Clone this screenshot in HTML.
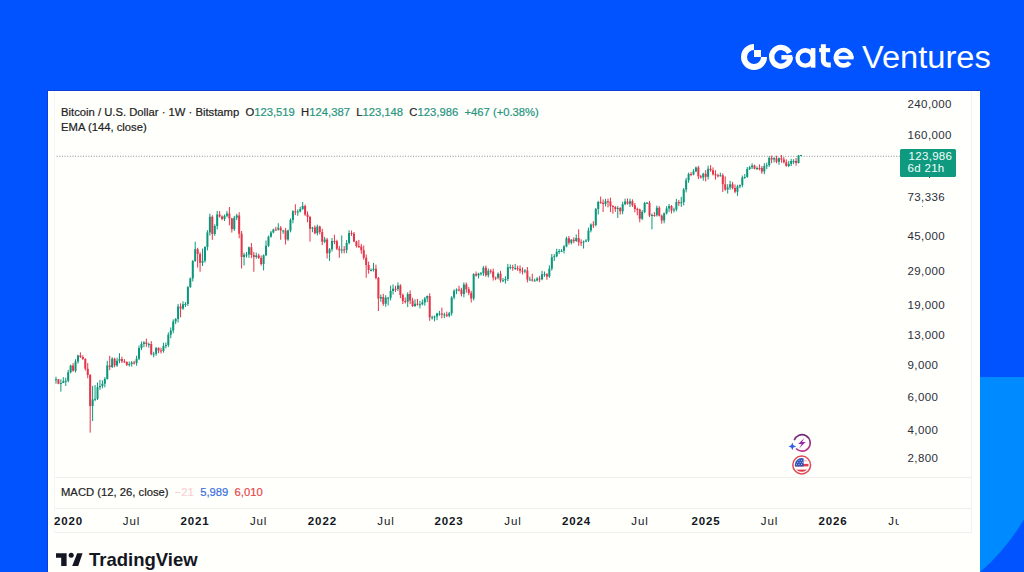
<!DOCTYPE html>
<html><head><meta charset="utf-8">
<style>
*{margin:0;padding:0;box-sizing:border-box}
html,body{width:1024px;height:572px;overflow:hidden;background:#0053ff;font-family:"Liberation Sans",sans-serif}
#lb{position:absolute;left:960px;top:377px;width:64px;height:195px;background:#0053ff;overflow:hidden}
#logo{position:absolute;left:740px;top:44px}
.gt{position:absolute;color:#fff;white-space:nowrap;transform-origin:0 0}
#panel{position:absolute;left:48px;top:91px;width:932px;height:481px;background:#fffffc;overflow:hidden}
.t{position:absolute;font-size:11.25px;color:#222;white-space:nowrap;-webkit-text-stroke:0.2px currentColor}
.g{color:#279580}
.yl{position:absolute;left:907.5px;font-size:11.5px;color:#2a2e39;line-height:14px;letter-spacing:0.4px}
.xl{position:absolute;top:514px;width:60px;text-align:center;font-size:11.5px;color:#131722;line-height:14px;letter-spacing:0.9px}
.xl.b{font-weight:bold}
.hl{position:absolute;left:54px;width:917px;height:1px;background:#eeeeec}
svg{position:absolute;left:0;top:0}
</style></head><body>
<div id="lb"><svg width="64" height="195" viewBox="960 377 64 195"><circle cx="847.7" cy="417.1" r="203.7" fill="#008aff"/></svg></div>
<svg id="logo" width="26" height="26" viewBox="0 0 26 26" style="left:740.8px;top:43.8px"><path d="M13 0A13 13 0 1 0 26 13H20A7 7 0 1 1 13 6Z" fill="#fff"/><rect x="13" y="6" width="7" height="7" fill="#fff"/></svg>
<svg width="100" height="40" viewBox="765 36 100 40" style="left:765px;top:36px">
<g fill="none" stroke="#fff">
<path d="M789.47 52.85A9.35 9.35 0 1 0 790.35 56.8" stroke-width="5.3"/>
<circle cx="805.25" cy="57.95" r="7.65" stroke-width="4.4"/>
<path d="M851.35 57.8A7.75 7.75 0 1 0 849.71 62.57" stroke-width="4.5"/>
<path d="M823.35 44.2V60.4A4.5 4.5 0 0 0 827.85 64.9H830.8" stroke-width="5"/>
</g>
<g fill="#fff">
<rect x="781.4" y="55.1" width="10.8" height="4.5"/>
<rect x="810.75" y="48.1" width="4.65" height="19.6"/>
<rect x="819.2" y="48.1" width="10.9" height="4.1"/>
<rect x="835.5" y="55.9" width="18.1" height="3.5"/>
</g></svg>
<div class="gt" style="left:862px;top:39.8px;font-size:30.6px;transform:scaleX(1.066)">Ventures</div>
<div id="panel"></div><div style="position:absolute;left:47px;top:90px;width:934px;height:1px;background:#0a3fd8"></div><div style="position:absolute;left:47px;top:90px;width:1px;height:482px;background:#0a3fd8"></div>
<svg width="1024" height="572" viewBox="0 0 1024 572" style="position:absolute;left:0;top:0">
<line x1="54" y1="156.3" x2="900" y2="156.3" stroke="#8a8d96" stroke-width="1" stroke-dasharray="1 1.64"/>
<g clip-path="url(#cp)"><g><path d="M55.99 376.7V383.7M60.87 379.3V391.6M63.32 377.2V383.1M65.76 377.7V385.9M68.20 369.8V382.4M70.64 364.7V373.4M75.53 359.2V372.5M77.97 354.7V363.6M92.62 385.9V421.0M95.07 385.0V401.2M97.51 382.5V400.0M99.95 379.8V389.9M102.40 380.3V388.3M104.84 377.1V387.3M107.28 360.8V379.6M112.16 357.2V368.0M117.05 357.8V366.8M119.49 353.2V363.2M129.26 361.5V366.6M131.70 361.1V366.5M136.59 355.8V365.7M139.03 345.5V360.1M141.47 341.6V350.2M143.92 341.1V347.2M148.80 342.6V347.7M153.69 351.8V357.3M156.13 347.0V355.8M163.46 342.8V352.7M165.90 342.5V348.4M168.34 332.4V347.1M170.78 327.5V338.2M173.23 319.4V333.2M175.67 318.1V324.1M178.11 303.9V322.5M183.00 301.3V309.9M185.44 302.1V307.0M187.88 286.2V305.9M190.32 277.5V287.9M192.77 260.1V281.5M195.21 241.7V261.9M202.54 248.6V266.0M204.98 246.2V262.7M207.42 230.2V250.4M209.87 213.7V235.6M214.75 224.3V235.8M217.19 210.9V229.4M224.52 214.5V221.0M226.96 211.1V217.3M234.29 215.9V230.9M236.73 213.8V220.1M244.06 252.7V265.4M246.50 252.0V257.5M248.94 246.6V257.8M256.27 252.6V258.7M263.60 254.5V270.4M266.04 240.5V256.1M268.49 235.6V246.9M270.93 231.0V237.6M273.37 228.7V233.3M278.25 223.2V230.6M283.14 229.8V233.8M288.02 229.6V240.8M290.47 218.4V232.4M292.91 210.2V223.3M297.80 209.4V215.8M300.24 206.8V212.3M302.68 202.0V209.8M312.45 226.8V232.2M317.33 224.7V235.4M324.66 236.9V243.2M329.55 248.1V260.9M331.99 238.0V251.5M341.76 235.4V253.4M346.64 240.0V253.2M349.09 230.2V244.3M371.07 268.4V271.4M373.51 262.9V271.5M380.84 294.6V301.9M385.72 295.2V306.8M388.17 296.9V305.4M390.61 285.7V300.4M393.05 284.4V294.5M397.94 282.4V291.1M407.71 292.2V307.1M415.03 299.3V306.9M419.92 300.9V308.4M422.36 299.6V305.3M424.80 297.0V305.7M427.25 295.5V302.2M432.13 315.6V319.6M434.57 315.5V321.3M437.02 312.8V320.1M439.46 310.9V315.7M444.34 312.7V318.1M449.23 311.9V317.3M451.67 296.1V315.7M454.11 289.4V299.4M456.56 288.4V294.2M463.88 282.4V297.4M473.65 273.3V300.5M478.54 272.8V278.5M480.98 272.0V275.5M483.42 265.9V276.0M488.31 268.5V277.4M498.08 272.4V279.3M502.96 278.0V282.1M505.41 276.2V283.7M507.85 263.9V281.0M510.29 264.5V269.4M515.18 263.9V270.0M524.95 269.0V273.3M529.83 276.6V280.7M534.72 278.6V281.4M537.16 277.1V281.4M542.04 270.9V280.3M544.49 271.5V276.8M549.37 265.4V277.8M551.81 254.0V270.6M554.26 254.1V261.0M556.70 248.7V257.3M559.14 249.0V254.0M561.59 249.1V252.1M564.03 245.0V253.5M566.47 236.7V247.2M571.36 239.1V244.4M576.24 234.5V241.9M583.57 240.5V248.6M586.01 239.1V242.2M588.45 227.6V242.0M590.89 223.4V232.4M595.78 208.0V226.4M598.22 200.8V214.5M605.55 198.9V206.4M617.76 206.1V217.9M622.65 201.8V214.2M625.09 198.7V205.2M629.98 198.7V207.0M642.19 209.9V220.1M644.63 201.9V213.2M647.07 202.0V204.1M651.96 213.4V229.3M656.84 205.6V216.5M664.17 212.6V223.2M666.61 206.2V214.5M669.06 204.0V212.0M673.94 207.6V212.5M676.38 198.9V211.3M681.27 196.8V206.9M683.71 188.0V205.4M686.15 177.8V192.4M688.60 172.6V182.8M693.48 169.2V175.3M695.92 166.6V172.2M703.25 172.8V180.7M708.13 165.7V179.5M720.35 172.7V176.6M727.68 184.2V193.6M730.12 180.8V189.9M737.45 184.8V195.9M739.89 184.5V188.2M742.33 175.5V187.3M744.77 174.0V178.8M747.22 167.0V177.7M749.66 165.9V170.0M752.10 163.3V169.1M756.99 166.4V170.1M764.31 163.1V174.2M766.75 162.6V169.2M769.20 156.1V166.9M774.08 157.1V162.4M778.97 157.5V164.9M788.74 160.9V167.1M791.18 158.8V166.1M793.62 159.2V164.1M798.51 155.1V163.4M800.95 154.9V155.7" stroke="#0c977c" stroke-width="1" fill="none"/><path d="M54.99 379.3h2.0V380.3h-2.0ZM59.87 383.1h2.0V384.1h-2.0ZM62.32 381.2h2.0V383.1h-2.0ZM64.76 380.8h2.0V381.8h-2.0ZM67.20 372.3h2.0V380.8h-2.0ZM69.64 365.6h2.0V372.3h-2.0ZM74.53 361.4h2.0V370.8h-2.0ZM76.97 355.5h2.0V361.4h-2.0ZM91.62 399.5h2.0V406.1h-2.0ZM94.07 398.7h2.0V399.7h-2.0ZM96.51 387.3h2.0V398.7h-2.0ZM98.95 385.9h2.0V387.3h-2.0ZM101.40 383.7h2.0V385.9h-2.0ZM103.84 378.9h2.0V383.7h-2.0ZM106.28 365.6h2.0V378.9h-2.0ZM111.16 358.7h2.0V367.0h-2.0ZM116.05 360.8h2.0V365.6h-2.0ZM118.49 359.1h2.0V360.8h-2.0ZM128.26 364.1h2.0V365.1h-2.0ZM130.70 362.6h2.0V364.1h-2.0ZM135.59 358.7h2.0V363.0h-2.0ZM138.03 348.0h2.0V358.7h-2.0ZM140.47 343.9h2.0V348.0h-2.0ZM142.92 342.4h2.0V343.9h-2.0ZM147.80 344.1h2.0V345.1h-2.0ZM152.69 353.7h2.0V354.7h-2.0ZM155.13 348.1h2.0V353.7h-2.0ZM162.46 346.0h2.0V351.1h-2.0ZM164.90 345.1h2.0V346.1h-2.0ZM167.34 334.7h2.0V345.1h-2.0ZM169.78 330.6h2.0V334.7h-2.0ZM172.23 321.4h2.0V330.6h-2.0ZM174.67 318.9h2.0V321.4h-2.0ZM177.11 306.4h2.0V318.9h-2.0ZM182.00 304.3h2.0V308.4h-2.0ZM184.44 303.9h2.0V304.9h-2.0ZM186.88 286.9h2.0V303.9h-2.0ZM189.32 278.6h2.0V286.9h-2.0ZM191.77 260.9h2.0V278.6h-2.0ZM194.21 249.2h2.0V260.9h-2.0ZM201.54 260.7h2.0V262.7h-2.0ZM203.98 247.0h2.0V260.7h-2.0ZM206.42 232.4h2.0V247.0h-2.0ZM208.87 216.7h2.0V232.4h-2.0ZM213.75 226.1h2.0V234.1h-2.0ZM216.19 214.5h2.0V226.1h-2.0ZM223.52 215.8h2.0V218.9h-2.0ZM225.96 213.4h2.0V215.8h-2.0ZM233.29 217.8h2.0V229.2h-2.0ZM235.73 215.6h2.0V217.8h-2.0ZM243.06 254.8h2.0V256.9h-2.0ZM245.50 254.4h2.0V255.4h-2.0ZM247.94 247.3h2.0V254.4h-2.0ZM255.27 255.5h2.0V256.9h-2.0ZM262.60 255.3h2.0V263.9h-2.0ZM265.04 245.7h2.0V255.3h-2.0ZM267.49 236.8h2.0V245.7h-2.0ZM269.93 232.6h2.0V236.8h-2.0ZM272.37 229.5h2.0V232.6h-2.0ZM277.25 227.8h2.0V229.6h-2.0ZM282.14 230.5h2.0V231.5h-2.0ZM287.02 230.6h2.0V239.4h-2.0ZM289.47 220.1h2.0V230.6h-2.0ZM291.91 211.2h2.0V220.1h-2.0ZM296.80 211.4h2.0V212.4h-2.0ZM299.24 208.9h2.0V211.4h-2.0ZM301.68 206.1h2.0V208.9h-2.0ZM311.45 227.5h2.0V228.7h-2.0ZM316.33 226.4h2.0V233.2h-2.0ZM323.66 239.6h2.0V241.8h-2.0ZM328.55 249.2h2.0V253.3h-2.0ZM330.99 240.9h2.0V249.2h-2.0ZM340.76 249.6h2.0V250.6h-2.0ZM345.64 243.0h2.0V250.1h-2.0ZM348.09 233.0h2.0V243.0h-2.0ZM370.07 270.1h2.0V271.1h-2.0ZM372.51 268.8h2.0V270.1h-2.0ZM379.84 297.0h2.0V298.6h-2.0ZM384.72 297.8h2.0V303.8h-2.0ZM387.17 297.8h2.0V298.8h-2.0ZM389.61 291.1h2.0V297.8h-2.0ZM392.05 288.7h2.0V291.1h-2.0ZM396.94 285.4h2.0V289.1h-2.0ZM406.71 294.0h2.0V301.7h-2.0ZM414.03 303.8h2.0V305.9h-2.0ZM418.92 304.2h2.0V305.2h-2.0ZM421.36 302.5h2.0V304.2h-2.0ZM423.80 298.6h2.0V302.5h-2.0ZM426.25 295.9h2.0V298.6h-2.0ZM431.13 317.3h2.0V318.3h-2.0ZM433.57 316.5h2.0V317.5h-2.0ZM436.02 313.4h2.0V316.5h-2.0ZM438.46 313.4h2.0V314.4h-2.0ZM443.34 314.6h2.0V315.6h-2.0ZM448.23 313.3h2.0V315.8h-2.0ZM450.67 297.5h2.0V313.3h-2.0ZM453.11 290.8h2.0V297.5h-2.0ZM455.56 289.4h2.0V290.8h-2.0ZM462.88 284.4h2.0V294.0h-2.0ZM472.65 274.0h2.0V298.6h-2.0ZM477.54 273.5h2.0V275.5h-2.0ZM479.98 273.2h2.0V274.2h-2.0ZM482.42 267.7h2.0V273.2h-2.0ZM487.31 270.7h2.0V275.2h-2.0ZM497.08 273.7h2.0V277.8h-2.0ZM501.96 280.3h2.0V281.3h-2.0ZM504.41 279.0h2.0V280.3h-2.0ZM506.85 267.2h2.0V279.0h-2.0ZM509.29 266.9h2.0V267.9h-2.0ZM514.18 267.9h2.0V268.9h-2.0ZM523.95 270.4h2.0V271.4h-2.0ZM528.83 279.6h2.0V280.6h-2.0ZM533.72 280.6h2.0V281.6h-2.0ZM536.16 278.4h2.0V280.6h-2.0ZM541.04 274.2h2.0V279.2h-2.0ZM543.49 274.2h2.0V275.2h-2.0ZM548.37 268.8h2.0V276.5h-2.0ZM550.81 257.3h2.0V268.8h-2.0ZM553.26 256.2h2.0V257.3h-2.0ZM555.70 251.8h2.0V256.2h-2.0ZM558.14 250.9h2.0V251.9h-2.0ZM560.59 250.7h2.0V251.7h-2.0ZM563.03 246.5h2.0V250.7h-2.0ZM565.47 238.3h2.0V246.5h-2.0ZM570.36 239.8h2.0V242.8h-2.0ZM575.24 238.1h2.0V241.1h-2.0ZM582.57 241.4h2.0V242.4h-2.0ZM585.01 240.5h2.0V241.5h-2.0ZM587.45 230.5h2.0V240.5h-2.0ZM589.89 224.4h2.0V230.5h-2.0ZM594.78 209.1h2.0V225.0h-2.0ZM597.22 202.1h2.0V209.1h-2.0ZM604.55 201.3h2.0V204.1h-2.0ZM616.76 208.0h2.0V209.1h-2.0ZM621.65 204.3h2.0V211.2h-2.0ZM624.09 201.5h2.0V204.3h-2.0ZM628.98 201.3h2.0V203.7h-2.0ZM641.19 212.1h2.0V218.8h-2.0ZM643.63 202.9h2.0V212.1h-2.0ZM646.07 202.8h2.0V203.8h-2.0ZM650.96 214.9h2.0V215.9h-2.0ZM655.84 207.7h2.0V215.3h-2.0ZM663.17 213.3h2.0V220.4h-2.0ZM665.61 208.5h2.0V213.3h-2.0ZM668.06 206.0h2.0V208.5h-2.0ZM672.94 209.5h2.0V210.5h-2.0ZM675.38 202.0h2.0V209.5h-2.0ZM680.27 202.2h2.0V203.3h-2.0ZM682.71 189.6h2.0V202.2h-2.0ZM685.15 180.2h2.0V189.6h-2.0ZM687.60 173.9h2.0V180.2h-2.0ZM692.48 171.4h2.0V174.5h-2.0ZM694.92 167.6h2.0V171.4h-2.0ZM702.25 173.7h2.0V177.5h-2.0ZM707.13 168.8h2.0V176.8h-2.0ZM719.35 175.3h2.0V176.3h-2.0ZM726.68 187.6h2.0V189.5h-2.0ZM729.12 184.3h2.0V187.6h-2.0ZM736.45 186.4h2.0V191.8h-2.0ZM738.89 185.1h2.0V186.4h-2.0ZM741.33 177.5h2.0V185.1h-2.0ZM743.77 177.0h2.0V178.0h-2.0ZM746.22 169.1h2.0V177.0h-2.0ZM748.66 167.3h2.0V169.1h-2.0ZM751.10 165.4h2.0V167.3h-2.0ZM755.99 167.9h2.0V168.9h-2.0ZM763.31 165.9h2.0V171.6h-2.0ZM765.75 165.3h2.0V166.3h-2.0ZM768.20 157.9h2.0V165.3h-2.0ZM773.08 158.2h2.0V159.6h-2.0ZM777.97 158.2h2.0V161.7h-2.0ZM787.74 163.9h2.0V166.0h-2.0ZM790.18 160.9h2.0V163.9h-2.0ZM792.62 160.9h2.0V161.9h-2.0ZM797.51 155.5h2.0V163.1h-2.0ZM799.95 155.1h2.0V156.1h-2.0Z" fill="#0c977c"/><path d="M58.43 379.3V384.2M73.09 363.1V371.7M80.41 352.4V357.9M82.86 355.2V359.9M85.30 358.2V370.7M87.74 363.0V378.3M90.18 374.1V432.6M109.72 355.9V370.2M114.61 357.7V367.2M121.94 356.7V363.1M124.38 359.1V362.9M126.82 361.3V366.0M134.15 360.7V364.5M146.36 338.6V346.9M151.25 341.1V355.3M158.57 347.3V353.2M161.01 347.7V353.5M180.56 303.3V317.3M197.65 247.8V267.5M200.09 252.2V271.8M212.31 215.2V239.8M219.63 211.1V217.6M222.08 215.4V220.3M229.40 207.0V225.3M231.85 217.7V232.6M239.18 212.2V238.3M241.62 231.0V268.5M251.39 243.0V258.1M253.83 251.9V271.8M258.71 253.7V258.9M261.16 255.5V265.6M275.81 226.9V230.7M280.70 226.1V239.8M285.58 228.0V244.5M295.35 204.3V215.1M305.12 204.5V215.9M307.56 211.4V222.3M310.01 215.8V241.6M314.89 225.4V234.2M319.78 225.7V234.4M322.22 228.7V245.1M327.10 237.9V258.5M334.43 234.7V244.3M336.88 239.7V250.1M339.32 245.9V257.8M344.20 246.2V253.3M351.53 230.6V235.9M353.97 232.0V242.2M356.41 240.7V247.6M358.86 239.9V248.0M361.30 243.9V253.8M363.74 245.5V259.8M366.19 254.5V277.8M368.63 261.6V273.7M375.95 264.6V279.4M378.40 276.9V311.1M383.28 293.9V305.8M395.49 285.8V292.0M400.38 284.2V298.2M402.82 293.5V304.0M405.26 297.5V303.5M410.15 290.4V304.0M412.59 297.8V307.0M417.48 298.9V305.7M429.69 293.3V320.8M441.90 307.6V318.3M446.79 311.6V317.1M459.00 285.7V291.4M461.44 287.8V296.4M466.33 282.5V292.7M468.77 287.1V295.2M471.21 290.8V302.5M476.10 271.5V276.7M485.87 265.5V276.8M490.75 269.1V273.8M493.19 268.6V280.6M495.64 276.6V280.2M500.52 270.9V282.7M512.74 264.8V270.7M517.62 265.7V270.9M520.06 265.4V273.4M522.50 267.5V274.4M527.39 267.0V282.4M532.27 273.7V281.6M539.60 275.9V282.2M546.93 273.1V279.8M568.91 236.0V244.7M573.80 237.3V243.2M578.68 229.3V245.8M581.12 239.3V246.0M593.34 221.1V228.1M600.67 196.6V203.8M603.11 199.4V212.1M607.99 198.6V207.4M610.44 197.7V212.1M612.88 205.0V213.7M615.32 206.1V211.8M620.21 207.1V214.6M627.53 198.4V204.6M632.42 199.3V206.9M634.86 203.0V212.4M637.30 207.6V215.3M639.75 208.6V222.3M649.51 200.8V217.1M654.40 212.0V216.8M659.28 206.1V216.5M661.73 214.5V223.7M671.50 205.1V213.5M678.83 199.9V206.0M691.04 172.1V176.2M698.37 165.9V179.1M700.81 174.9V178.6M705.69 170.2V181.4M710.58 165.1V171.8M713.02 167.4V175.5M715.46 170.3V179.7M717.90 173.7V177.5M722.79 173.4V192.0M725.23 176.4V190.9M732.56 181.9V189.3M735.00 184.5V193.3M754.54 164.7V169.4M759.43 164.4V170.4M761.87 165.9V173.8M771.64 155.6V163.2M776.52 155.7V163.3M781.41 154.9V162.8M783.85 157.0V163.5M786.29 159.4V166.7M796.07 158.0V165.7" stroke="#e6344a" stroke-width="1" fill="none"/><path d="M57.43 379.3h2.0V383.7h-2.0ZM72.09 365.6h2.0V370.8h-2.0ZM79.41 355.5h2.0V357.1h-2.0ZM81.86 357.1h2.0V359.1h-2.0ZM84.30 359.1h2.0V368.8h-2.0ZM86.74 368.8h2.0V375.1h-2.0ZM89.18 375.1h2.0V406.1h-2.0ZM108.72 365.6h2.0V367.0h-2.0ZM113.61 358.7h2.0V365.6h-2.0ZM120.94 359.1h2.0V361.3h-2.0ZM123.38 361.3h2.0V362.3h-2.0ZM125.82 362.1h2.0V364.7h-2.0ZM133.15 362.6h2.0V363.6h-2.0ZM145.36 342.4h2.0V344.1h-2.0ZM150.25 344.1h2.0V354.3h-2.0ZM157.57 348.1h2.0V350.5h-2.0ZM160.01 350.5h2.0V351.5h-2.0ZM179.56 306.4h2.0V308.4h-2.0ZM196.65 249.2h2.0V253.9h-2.0ZM199.09 253.9h2.0V262.7h-2.0ZM211.31 216.7h2.0V234.1h-2.0ZM218.63 214.5h2.0V216.5h-2.0ZM221.08 216.5h2.0V218.9h-2.0ZM228.40 213.4h2.0V218.4h-2.0ZM230.85 218.4h2.0V229.2h-2.0ZM238.18 215.6h2.0V233.7h-2.0ZM240.62 233.7h2.0V256.9h-2.0ZM250.39 247.3h2.0V255.1h-2.0ZM252.83 255.1h2.0V256.9h-2.0ZM257.71 255.5h2.0V258.0h-2.0ZM260.16 258.0h2.0V263.9h-2.0ZM274.81 229.5h2.0V230.5h-2.0ZM279.70 227.8h2.0V230.5h-2.0ZM284.58 230.5h2.0V239.4h-2.0ZM294.35 211.2h2.0V212.2h-2.0ZM304.12 206.1h2.0V214.5h-2.0ZM306.56 214.5h2.0V217.0h-2.0ZM309.01 217.0h2.0V228.7h-2.0ZM313.89 227.5h2.0V233.2h-2.0ZM318.78 226.4h2.0V232.1h-2.0ZM321.22 232.1h2.0V241.8h-2.0ZM326.10 239.6h2.0V253.3h-2.0ZM333.43 240.9h2.0V241.9h-2.0ZM335.88 241.3h2.0V248.8h-2.0ZM338.32 248.8h2.0V250.3h-2.0ZM343.20 249.6h2.0V250.6h-2.0ZM350.53 233.0h2.0V234.0h-2.0ZM352.97 233.7h2.0V241.4h-2.0ZM355.41 241.4h2.0V246.1h-2.0ZM357.86 246.1h2.0V247.1h-2.0ZM360.30 246.5h2.0V250.3h-2.0ZM362.74 250.3h2.0V257.8h-2.0ZM365.19 257.8h2.0V265.1h-2.0ZM367.63 265.1h2.0V270.1h-2.0ZM374.95 268.8h2.0V278.1h-2.0ZM377.40 278.1h2.0V298.6h-2.0ZM382.28 297.0h2.0V303.8h-2.0ZM394.49 288.7h2.0V289.7h-2.0ZM399.38 285.4h2.0V295.1h-2.0ZM401.82 295.1h2.0V300.9h-2.0ZM404.26 300.9h2.0V301.9h-2.0ZM409.15 294.0h2.0V300.5h-2.0ZM411.59 300.5h2.0V305.9h-2.0ZM416.48 303.8h2.0V304.8h-2.0ZM428.69 295.9h2.0V317.3h-2.0ZM440.90 313.4h2.0V314.8h-2.0ZM445.79 314.6h2.0V315.8h-2.0ZM458.00 289.4h2.0V290.4h-2.0ZM460.44 289.7h2.0V294.0h-2.0ZM465.33 284.4h2.0V289.2h-2.0ZM467.77 289.2h2.0V292.9h-2.0ZM470.21 292.9h2.0V298.6h-2.0ZM475.10 274.0h2.0V275.5h-2.0ZM484.87 267.7h2.0V275.2h-2.0ZM489.75 270.7h2.0V271.7h-2.0ZM492.19 271.5h2.0V277.5h-2.0ZM494.64 277.5h2.0V278.5h-2.0ZM499.52 273.7h2.0V280.6h-2.0ZM511.74 266.9h2.0V268.0h-2.0ZM516.62 267.9h2.0V268.9h-2.0ZM519.06 268.8h2.0V270.7h-2.0ZM521.50 270.7h2.0V271.7h-2.0ZM526.39 270.4h2.0V279.6h-2.0ZM531.27 279.6h2.0V280.6h-2.0ZM538.60 278.4h2.0V279.4h-2.0ZM545.93 274.2h2.0V276.5h-2.0ZM567.91 238.3h2.0V242.8h-2.0ZM572.80 239.8h2.0V241.1h-2.0ZM577.68 238.1h2.0V242.2h-2.0ZM580.12 242.2h2.0V243.2h-2.0ZM592.34 224.4h2.0V225.4h-2.0ZM599.67 202.1h2.0V203.1h-2.0ZM602.11 202.7h2.0V204.1h-2.0ZM606.99 201.3h2.0V202.3h-2.0ZM609.44 201.6h2.0V205.9h-2.0ZM611.88 205.9h2.0V206.9h-2.0ZM614.32 206.9h2.0V209.1h-2.0ZM619.21 208.0h2.0V211.2h-2.0ZM626.53 201.5h2.0V203.7h-2.0ZM631.42 201.3h2.0V205.3h-2.0ZM633.86 205.3h2.0V209.0h-2.0ZM636.30 209.0h2.0V210.0h-2.0ZM638.75 209.6h2.0V218.8h-2.0ZM648.51 202.8h2.0V215.6h-2.0ZM653.40 214.9h2.0V215.9h-2.0ZM658.28 207.7h2.0V215.8h-2.0ZM660.73 215.8h2.0V220.4h-2.0ZM670.50 206.0h2.0V210.4h-2.0ZM677.83 202.0h2.0V203.3h-2.0ZM690.04 173.9h2.0V174.9h-2.0ZM697.37 167.6h2.0V176.2h-2.0ZM699.81 176.2h2.0V177.5h-2.0ZM704.69 173.7h2.0V176.8h-2.0ZM709.58 168.8h2.0V170.3h-2.0ZM712.02 170.3h2.0V174.2h-2.0ZM714.46 174.2h2.0V175.2h-2.0ZM716.90 175.2h2.0V176.2h-2.0ZM721.79 175.3h2.0V184.3h-2.0ZM724.23 184.3h2.0V189.5h-2.0ZM731.56 184.3h2.0V187.9h-2.0ZM734.00 187.9h2.0V191.8h-2.0ZM753.54 165.4h2.0V168.7h-2.0ZM758.43 167.9h2.0V168.9h-2.0ZM760.87 168.0h2.0V171.6h-2.0ZM770.64 157.9h2.0V159.6h-2.0ZM775.52 158.2h2.0V161.7h-2.0ZM780.41 158.2h2.0V159.5h-2.0ZM782.85 159.5h2.0V162.2h-2.0ZM785.29 162.2h2.0V166.0h-2.0ZM795.07 160.9h2.0V163.1h-2.0Z" fill="#e6344a"/></g></g>
<defs><filter id="bl" x="0" y="0" width="1" height="1"><feGaussianBlur stdDeviation="0.35"/></filter><clipPath id="cp"><rect x="54" y="95" width="846" height="383"/></clipPath></defs>
</svg>
<div class="t" style="left:61px;top:105.7px">Bitcoin / U.S. Dollar · 1W · Bitstamp&nbsp;&nbsp;O<span class="g">123,519</span>&nbsp;&nbsp;H<span class="g">124,387</span>&nbsp;&nbsp;L<span class="g">123,148</span>&nbsp;&nbsp;C<span class="g">123,986</span>&nbsp;&nbsp;<span class="g">+467 (+0.38%)</span></div>
<div class="t" style="left:61px;top:121.3px">EMA (144, close)</div>
<div class="yl" style="top:96.6px;clip-path:inset(3.2px 0 0 0)">240,000</div><div class="yl" style="top:128.3px">160,000</div><div class="yl" style="top:189.8px">73,336</div><div class="yl" style="top:229.0px">45,000</div><div class="yl" style="top:264.2px">29,000</div><div class="yl" style="top:298.0px">19,000</div><div class="yl" style="top:328.3px">13,000</div><div class="yl" style="top:357.7px">9,000</div><div class="yl" style="top:390.1px">6,000</div><div class="yl" style="top:422.5px">4,000</div><div class="yl" style="top:451.0px">2,800</div>
<div style="position:absolute;left:900px;top:148.8px;width:56px;height:27.8px;background:#0f9a80;border-radius:1.5px;color:#f4fffb;font-size:11.5px;line-height:12px;padding:1px 0 0 7.6px;letter-spacing:0.3px"><span style="margin-left:1px">123,986</span><br>6d 21h</div>
<div class="hl" style="top:477px"></div>
<div class="hl" style="top:508px"></div>
<div class="hl" style="top:532px"></div>
<div style="position:absolute;left:971px;top:91px;width:1px;height:442px;background:#f2f3f4"></div><div style="position:absolute;left:54px;top:91px;width:1px;height:442px;background:#f6f6f4"></div><div style="position:absolute;left:921.5px;top:205.5px;width:1px;height:1.5px;background:#888"></div><div style="position:absolute;left:928.5px;top:176.5px;width:1px;height:1.5px;background:#555"></div>
<svg width="28" height="48" viewBox="788 430 28 48" style="left:788px;top:430px">
<defs><linearGradient id="pg" x1="0" y1="0" x2="0" y2="1"><stop offset="0" stop-color="#6e2a78"/><stop offset="1" stop-color="#c2358f"/></linearGradient>
<clipPath id="fc"><circle cx="801.7" cy="465" r="6.9"/></clipPath></defs>
<path d="M794.25 440.23A8.2 8.2 0 1 1 796 448.5" stroke="url(#pg)" stroke-width="1.6" fill="none"/>
<path d="M804.3 437.9L798.2 443.9H801.7L799.3 448.3L805.6 442H802.1Z" fill="#9a2aa8"/>
<path d="M792.3 442.6L793.4 445.3L796.1 446.4L793.4 447.5L792.3 450.2L791.2 447.5L788.5 446.4L791.2 445.3Z" fill="#2f5be8"/>
<circle cx="801.7" cy="465" r="8.9" stroke="#de4a55" stroke-width="1.5" fill="#fff"/>
<g clip-path="url(#fc)">
<rect x="794" y="458" width="16" height="14" fill="#fff"/>
<rect x="803.5" y="460.2" width="6" height="1.3" fill="#f7c9cc"/>
<rect x="794" y="463.9" width="16" height="2.5" fill="#e23d4a"/>
<rect x="794" y="469.6" width="16" height="2.2" fill="#e23d4a"/>
<rect x="794" y="457.5" width="9.6" height="9" fill="#3454b4"/>
<g fill="#c8d4ff"><circle cx="796.5" cy="460.3" r=".55"/><circle cx="799" cy="460.3" r=".55"/><circle cx="801.5" cy="460.3" r=".55"/><circle cx="797.7" cy="462.3" r=".55"/><circle cx="800.2" cy="462.3" r=".55"/><circle cx="802.6" cy="462.3" r=".55"/><circle cx="796.5" cy="464.3" r=".55"/><circle cx="799" cy="464.3" r=".55"/><circle cx="801.5" cy="464.3" r=".55"/></g>
</g></svg>
<div class="t" style="left:61px;top:486px">MACD (12, 26, close)&nbsp;&nbsp;<span style="color:#f9d0d2">−21</span>&nbsp;&nbsp;<span style="color:#3b6fe0">5,989</span>&nbsp;&nbsp;<span style="color:#e5484d">6,010</span></div>
<div style="position:absolute;left:0;top:0;width:899px;height:572px;overflow:hidden"><div class="xl b" style="left:38.5px">2020</div><div class="xl" style="left:101.5px">Jul</div><div class="xl b" style="left:165.0px">2021</div><div class="xl" style="left:228.6px">Jul</div><div class="xl b" style="left:292.4px">2022</div><div class="xl" style="left:356.0px">Jul</div><div class="xl b" style="left:419.0px">2023</div><div class="xl" style="left:483.0px">Jul</div><div class="xl b" style="left:546.5px">2024</div><div class="xl" style="left:610.0px">Jul</div><div class="xl b" style="left:676.0px">2025</div><div class="xl" style="left:739.5px">Jul</div><div class="xl b" style="left:803.0px">2026</div><div class="xl" style="left:867.0px">Jul</div></div>
<svg width="28" height="14" viewBox="0 0 28 14" style="left:55px;top:552px"><path d="M1 1.2H11.6V13.9H6.2V5.8H1Z" fill="#131722"/><circle cx="16.2" cy="3.3" r="2.5" fill="#131722"/><path d="M22.2 1.2H27.6L23.2 13.9H17.2Z" fill="#131722"/></svg>
<div style="position:absolute;left:89px;top:549.1px;font-size:18.5px;font-weight:bold;color:#131722">TradingView</div>
</body></html>
